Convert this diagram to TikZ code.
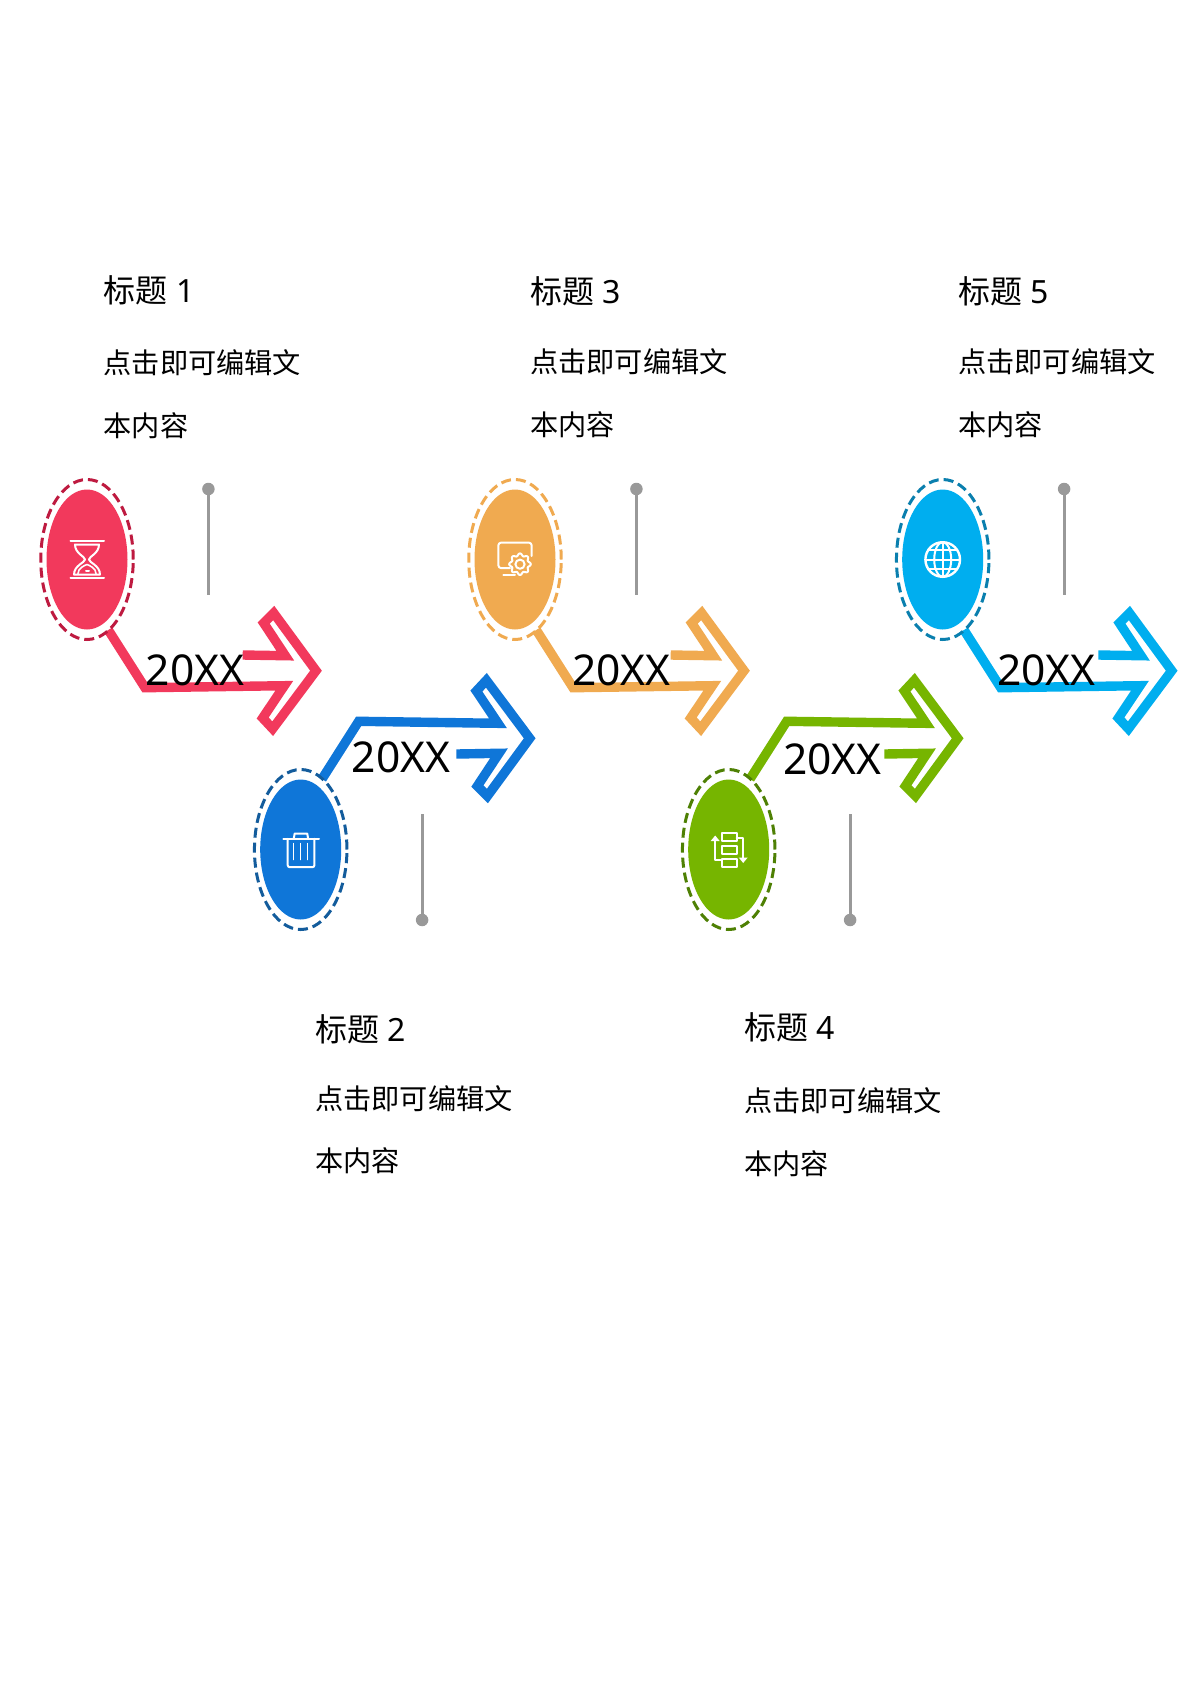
\documentclass[tikz,border=0pt]{standalone}
\usepackage{fontspec}
\usetikzlibrary{shapes.geometric}
\setmainfont{Noto Sans}
\newfontfamily\cjkfont{Noto Sans CJK SC}
\definecolor{cRed}{HTML}{F2395C}\definecolor{dRed}{HTML}{BE1A40}
\definecolor{cBlue}{HTML}{0F76D8}\definecolor{dBlue}{HTML}{135C9C}
\definecolor{cOrange}{HTML}{F0AA50}\definecolor{dOrange}{HTML}{F0AA50}
\definecolor{cGreen}{HTML}{76B500}\definecolor{dGreen}{HTML}{4E8004}
\definecolor{cSky}{HTML}{00AEEF}\definecolor{dSky}{HTML}{0A7FAE}
\definecolor{cPin}{HTML}{999999}
\tikzset{
  x=1pt,y=-1pt,
  disc/.style={ellipse,inner sep=0,outer sep=0,minimum width=81,minimum height=140},
  ring/.style={ellipse,inner sep=0,outer sep=0,minimum width=92.5,minimum height=160,draw,line width=3,dash pattern=on 10 off 5},
  arrowline/.style={line width=9.4,miter limit=10,line join=miter},
  pinline/.style={draw=cPin,line width=3},
  pinhead/.style={circle,fill=cPin,inner sep=0,minimum size=12.5},
  icon/.style={draw=white,line width=2,line cap=round,line join=round},
  yeartext/.style={inner sep=0,font=\fontsize{42.5}{48}\selectfont},
  titletext/.style={inner sep=0,anchor=base west,font=\fontsize{32}{38}\selectfont},
  bodytext/.style={inner sep=0,anchor=base west,font=\cjkfont\fontsize{28.2}{34}\selectfont},
}
\newcommand{\stage}[6]{%
 \begin{scope}[shift={(#2,#3)},yscale=#4]
  \coordinate (a#1) at (21.3,70.5);
  \coordinate (p#1) at (121.4,35.5);
  \draw[arrowline,draw=#5] (a#1) -- (58,128.2) -- (197.3,126.2) -- (175.7,158.5) -- (185.7,169.2)
     -- (229,111.2) -- (186.7,53.5) -- (176.7,63.5) -- (198.3,96.2) -- (155.7,95.5);
  \node[disc,fill=#5] (e#1) at (0,0) {};
  \node[ring,draw=#6] (r#1) at (0,0) {};
  \node[pinhead] (h#1) at (121.4,-70.5) {};
  \draw[pinline] (h#1.center) -- (p#1);
 \end{scope}}
\newcommand{\tblock}[6]{%
 \node[titletext] (t#1) at (#2,#3) {{\cjkfont 标题} #6};
 \node[bodytext] (b#1) at (#2,#4) {点击即可编辑文};
 \node[bodytext] (c#1) at (#2,#5) {本内容};}
\begin{document}
\begin{tikzpicture}
\useasboundingbox (0,0) rectangle (1191,1684);
\fill[white] (0,0) rectangle (1191,1684);
\stage{1}{87}{559.5}{1}{cRed}{dRed}
\stage{2}{300.7}{849.5}{-1}{cBlue}{dBlue}
\stage{3}{515}{559.5}{1}{cOrange}{dOrange}
\stage{4}{728.7}{849.5}{-1}{cGreen}{dGreen}
\stage{5}{942.7}{559.5}{1}{cSky}{dSky}
% hourglass
\begin{scope}[shift={(e1.center)}]
 \draw[icon] (-16.5,-18.3) -- (17,-18.3) (-16.5,18.7) -- (17,18.7);
 \draw[icon] (-12,-15) .. controls (-12,-6) and (-2,-3) .. (-2,0) .. controls (-2,3) and (-13,6) .. (-13,15)
   -- (13,15) .. controls (13,6) and (2,3) .. (2,0) .. controls (2,-3) and (12,-6) .. (12,-15) -- cycle;
 \draw[icon,line width=1.6] (-9,14) .. controls (-9,9) and (-3,6) .. (0,5) .. controls (3,6) and (9,9) .. (9,14);
 \draw[icon] (-1,11) -- (2,11);
\end{scope}
% trash
\begin{scope}[shift={(e2.center)}]
 \draw[icon] (-17.3,-10.7) -- (18.3,-10.7);
 \draw[icon] (-7,-10.7) -- (-6,-16) -- (6.5,-16) -- (7.5,-10.7);
 \draw[icon,rounded corners=2] (-13,-10.7) -- (-13,17.7) -- (13.7,17.7) -- (13.7,-10.7);
 \draw[icon,line width=1.5] (-7,-6) -- (-7,10) (0,-6) -- (0,10) (7,-6) -- (7,10);
\end{scope}
% monitor and gear
\begin{scope}[shift={(e3.center)}]
 \draw[icon,rounded corners=3] (16.7,-3.5) -- (16.7,-17) -- (-16.7,-17) -- (-16.7,8.7) -- (-5,8.7);
 \draw[icon] (-11.7,15.3) -- (0,15.3);
 \draw[icon,shift={(5,4.7)}] plot[domain=0:360,samples=97,smooth] ({(9.6+1.2*cos(8*\x))*cos(\x)},{(9.6+1.2*cos(8*\x))*sin(\x)});
 \draw[icon] (5,4.7) circle[radius=4.6];
\end{scope}
% transfer
\begin{scope}[shift={(e4.center)}]
 \draw[icon,line cap=butt] (-7,-17) rectangle (8,-9) (-7,-3.7) rectangle (8,4.7) (-7,9.7) rectangle (8,17.7);
 \draw[icon] (-7,10.5) -- (-13.5,10.5) -- (-13.5,-11);
 \fill[white] (-18,-8.5) -- (-13.5,-14) -- (-9,-8.5) -- cycle;
 \draw[icon] (8,-11.5) -- (14.5,-11.5) -- (14.5,10);
 \fill[white] (10,8) -- (14.5,13.5) -- (19,8) -- cycle;
\end{scope}
% globe
\begin{scope}[shift={(e5.center)}]
 \draw[icon,line width=2.4] (0,0) circle[radius=17.3];
 \draw[icon] (0,0) ellipse[x radius=8.5,y radius=17.3];
 \draw[icon] (0,-17.3) -- (0,17.3) (-17.3,0) -- (17.3,0) (-14.5,-9.2) -- (14.5,-9.2) (-14.5,9.2) -- (14.5,9.2);
\end{scope}
% years
\node[yeartext] (y1) at (195,670.5) {20XX};
\node[yeartext] (y2) at (401.2,757.5) {20XX};
\node[yeartext] (y3) at (621.5,670) {20XX};
\node[yeartext] (y4) at (832.5,759) {20XX};
\node[yeartext] (y5) at (1046.5,670) {20XX};
% text
\tblock{1}{103.5}{302}{373.8}{436.8}{1}
\tblock{2}{315}{1041}{1109.5}{1171.5}{2}
\tblock{3}{530}{303}{372.8}{435.3}{3}
\tblock{4}{744}{1039}{1111.5}{1174.5}{4}
\tblock{5}{958}{303}{372.8}{435.3}{5}
\end{tikzpicture}
\end{document}
